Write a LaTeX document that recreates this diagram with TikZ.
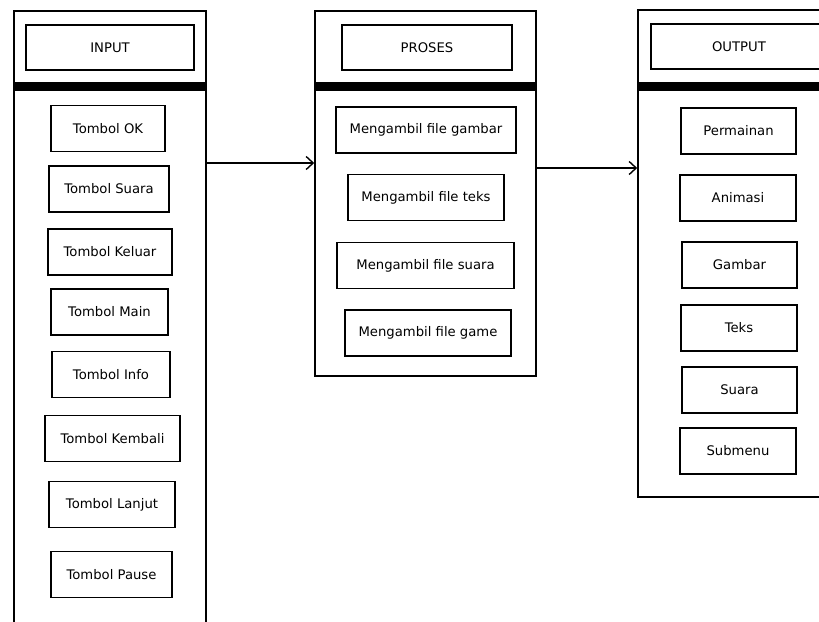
\documentclass[tikz,border=0pt]{standalone}
\usepackage{fontspec}
\setmainfont{DejaVu Sans}
\usetikzlibrary{arrows.meta}
\tikzstyle{line} = [draw, line width=1.4pt, -{Straight Barb[length=7pt,width=13pt]}]
\tikzstyle{col} = [rectangle, draw, line width=1.6pt, inner sep=0pt]
\tikzstyle{head} = [rectangle, draw, line width=1.6pt, minimum height=45pt, inner sep=0pt, text centered, font=\fontsize{13.2}{15}\selectfont]
\tikzstyle{box} = [rectangle, draw, line width=1.6pt, minimum height=46pt, inner sep=0pt, text centered, font=\fontsize{13.2}{15}\selectfont]
\tikzstyle{bar} = [draw, line width=9pt]
\begin{document}
\begin{tikzpicture}[x=1pt, y=-1pt]
	\useasboundingbox (0,0) rectangle (819,621);
	\clip (0,0) rectangle (819,621);
	
	\node [col, minimum width=192pt, minimum height=689pt] (colin) at (110,355.5) {};
	\node [col, minimum width=221pt, minimum height=365pt] (colpro) at (425.5,193.5) {};
	\node [col, minimum width=202pt, minimum height=487pt] (colout) at (739,253.5) {};
	
	\node [head, minimum width=168pt] (hin) at (110,47.5) {INPUT};
	\node [head, minimum width=170pt] (hpro) at (427,47.5) {PROSES};
	\node [head, minimum width=176pt] (hout) at (739,46.5) {OUTPUT};
	
	\coordinate (y1) at (0,86.5);
	\draw [bar] (colin.west |- y1) -- (colin.east |- y1);
	\draw [bar] (colpro.west |- y1) -- (colpro.east |- y1);
	\draw [bar] (colout.west |- y1) -- (colout.east |- y1);
	
	\node [box, minimum width=114pt] (in1) at (108,128.5) {Tombol OK};
	\node [box, minimum width=120pt] (in2) at (109,189) {Tombol Suara};
	\node [box, minimum width=124pt] (in3) at (110,252) {Tombol Keluar};
	\node [box, minimum width=117pt] (in4) at (109.5,312) {Tombol Main};
	\node [box, minimum width=118pt] (in5) at (111,374.5) {Tombol Info};
	\node [box, minimum width=135pt] (in6) at (112.5,438.5) {Tombol Kembali};
	\node [box, minimum width=126pt] (in7) at (112,504.5) {Tombol Lanjut};
	\node [box, minimum width=121pt] (in8) at (111.5,574.5) {Tombol Pause};
	
	\node [box, minimum width=180pt] (pro1) at (426,130) {Mengambil file gambar};
	\node [box, minimum width=156pt] (pro2) at (426,197.5) {Mengambil file teks};
	\node [box, minimum width=177pt] (pro3) at (425.5,265.5) {Mengambil file suara};
	\node [box, minimum width=166pt] (pro4) at (428,333) {Mengambil file game};
	
	\node [box, minimum width=115pt] (out1) at (738.5,131) {Permainan};
	\node [box, minimum width=116pt] (out2) at (738,198) {Animasi};
	\node [box, minimum width=115pt] (out3) at (739.5,265) {Gambar};
	\node [box, minimum width=116pt] (out4) at (739,328) {Teks};
	\node [box, minimum width=115pt] (out5) at (739.5,390) {Suara};
	\node [box, minimum width=116pt] (out6) at (738,451) {Submenu};
	
	\coordinate (a1) at (0,163);
	\coordinate (a2) at (0,168);
	\path [line] (colin.east |- a1) to (colpro.west |- a1);
	\path [line] (colpro.east |- a2) to (colout.west |- a2);
\end{tikzpicture}
\end{document}
